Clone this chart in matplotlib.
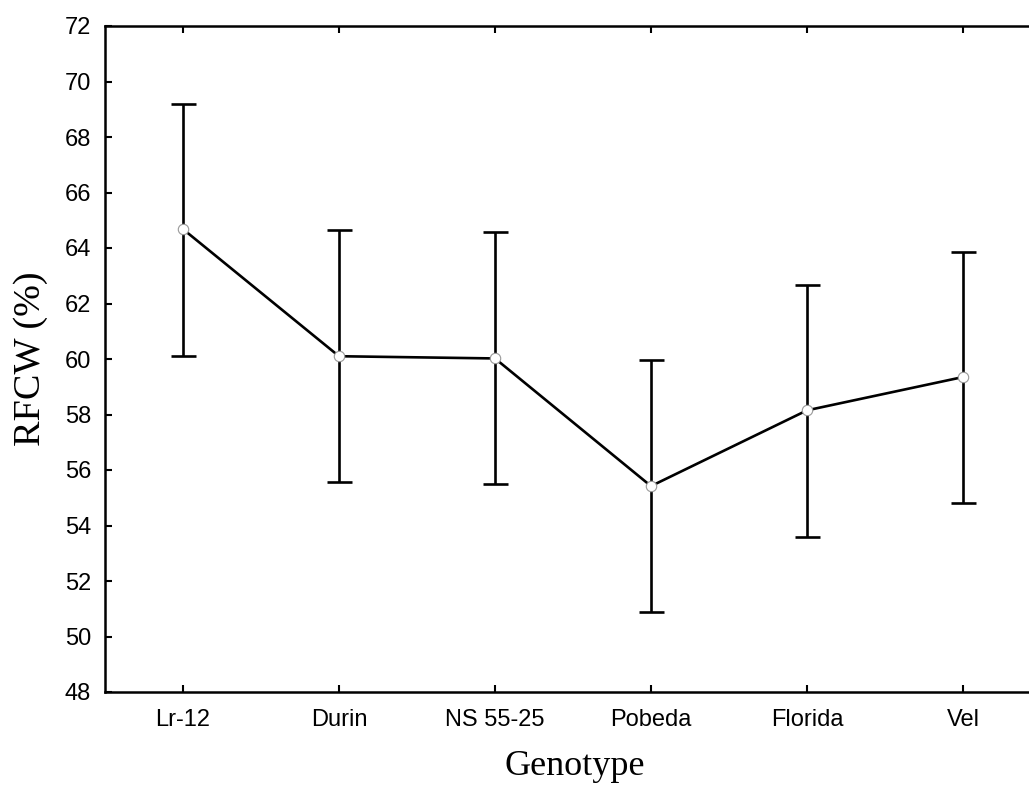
import matplotlib
matplotlib.use('Agg')
import matplotlib.pyplot as plt
import numpy as np

# data
genotypes = ['Lr-12', 'Durin', 'NS 55-25', 'Pobeda', 'Florida', 'Vel']
means = [64.68, 60.1, 60.02, 55.42, 58.15, 59.35]
upper = [69.19, 64.65, 64.56, 59.95, 62.68, 63.87]
lower = [60.1, 55.57, 55.5, 50.88, 53.6, 54.82]

x = np.arange(len(genotypes))
m = np.array(means)
yerr = [m - np.array(lower), np.array(upper) - m]

fig = plt.figure(figsize=(10.29, 7.92), dpi=100)
# axes run a little past the right edge, as in the original
ax = fig.add_axes([105 / 1029, 100 / 792, 936 / 1029, 666 / 792])

ax.errorbar(x, m, yerr=yerr, fmt='none', ecolor='black', elinewidth=1.9,
            capsize=9, capthick=1.9, zorder=2)
ax.plot(x, m, '-', color='black', lw=1.9, zorder=3)
ax.plot(x, m, 'o', ms=7.5, mfc='white', mec='#999999', mew=0.8, zorder=4)

ax.set_xlim(-0.5, 5.5)
ax.set_ylim(48, 72)
ax.set_yticks(np.arange(48, 73, 2))
ax.set_xticks(x)
ax.set_xticklabels(genotypes)

for s in ['left', 'bottom', 'top']:
    ax.spines[s].set_linewidth(1.8)
ax.spines['right'].set_visible(False)

ax.tick_params(axis='both', direction='in', length=5, width=1.5,
               labelsize=17, top=True)
ax.tick_params(axis='y', pad=10)
ax.tick_params(axis='x', pad=12)
for lab in ax.get_xticklabels() + ax.get_yticklabels():
    lab.set_fontfamily('Liberation Sans')

ax.set_ylabel('RFCW (%)', fontsize=27.5, family='Liberation Serif')
ax.set_xlabel('Genotype', fontsize=26, family='Liberation Serif')
ax.yaxis.set_label_coords(-57 / 936, 0.5)
ax.xaxis.set_label_coords(470 / 936, -58 / 666)

fig.savefig('out.png', dpi=100)
